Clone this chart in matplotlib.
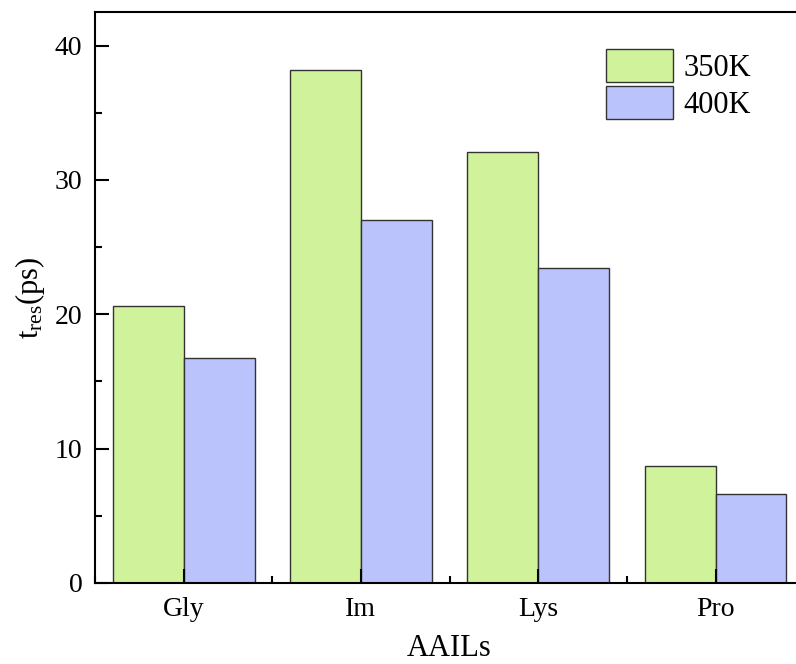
import numpy as np
import matplotlib
matplotlib.use('Agg')
import matplotlib.pyplot as plt
from matplotlib.ticker import MultipleLocator

plt.rcParams['font.family'] = ['Liberation Serif', 'DejaVu Serif']
plt.rcParams['mathtext.fontset'] = 'custom'
plt.rcParams['mathtext.rm'] = 'Liberation Serif'

categories = ['Gly', 'Im', 'Lys', 'Pro']
t350 = [20.6, 38.15, 32.05, 8.67]
t400 = [16.77, 27.05, 23.47, 6.63]

x = np.arange(len(categories))
w = 0.4

fig = plt.figure(figsize=(7.96, 6.64), dpi=100)
ax = fig.add_axes([0.1193, 0.122, 0.891, 0.860])

ax.bar(x - w/2, t350, w, color='#cff29a', edgecolor='#333333', linewidth=1.0, label='350K')
ax.bar(x + w/2, t400, w, color='#bac3fb', edgecolor='#333333', linewidth=1.0, label='400K')

ax.set_xlim(-0.5, 3.5)
ax.set_ylim(0, 42.5)
ax.set_xticks(x)
ax.set_xticklabels(categories)
ax.xaxis.set_minor_locator(MultipleLocator(0.5))
ax.yaxis.set_major_locator(MultipleLocator(10))
ax.yaxis.set_minor_locator(MultipleLocator(5))
ax.tick_params(which='major', direction='in', length=10, width=1.5, labelsize=20)
ax.tick_params(which='minor', direction='in', length=5, width=1.5)
ax.tick_params(axis='x', pad=10)
ax.tick_params(axis='y', pad=9)
for s in ax.spines.values():
    s.set_linewidth(1.5)

ax.set_xlabel('AAILs', fontsize=22, labelpad=9)
ax.set_ylabel(r'$\mathregular{t_{res}}$(ps)', fontsize=22, labelpad=6)

ax.legend(loc='upper left', bbox_to_anchor=(0.72, 0.935), frameon=False, fontsize=22,
          handlelength=2.2, handleheight=1.3, labelspacing=0.1, handletextpad=0.35,
          borderpad=0, borderaxespad=0)

plt.savefig('out.png')
